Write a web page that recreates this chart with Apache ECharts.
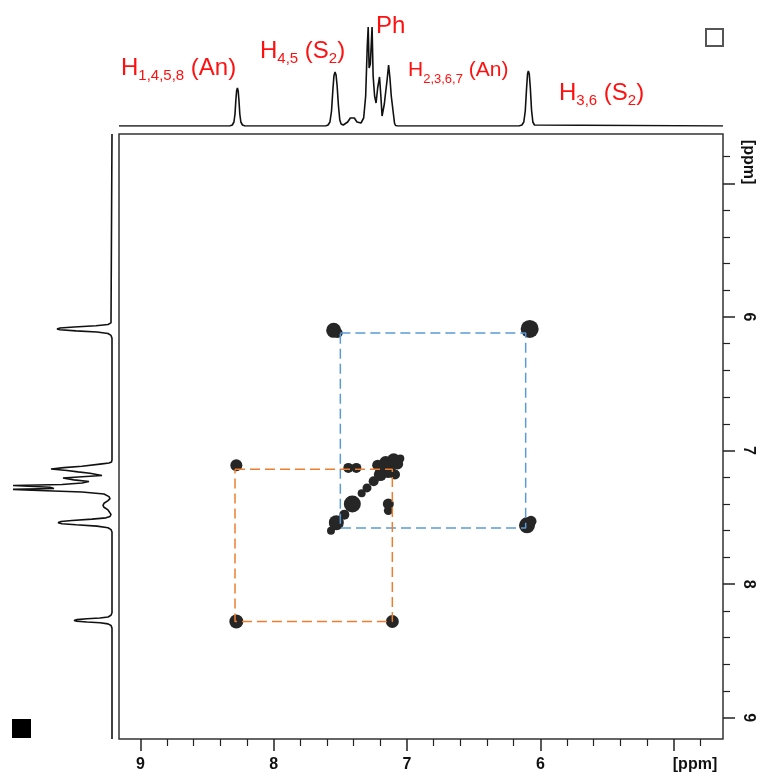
<!DOCTYPE html>
<html>
<head>
<meta charset="utf-8">
<script src="https://cdn.jsdelivr.net/npm/echarts@6/dist/echarts.min.js"></script>
<style>
  html, body { margin: 0; padding: 0; background: #fff; }
  #chart { width: 762px; height: 779px; }
</style>
</head>
<body>
<div id="chart"></div>
<script>
// ppm range shown on both axes (high field on the right / top)
const ppmMin = 4.63, ppmMax = 9.16;
const majorTicks = [9, 8, 7, 6, 5];
const minorTicks = [8.8, 8.6, 8.4, 8.2, 7.8, 7.6, 7.4, 7.2, 6.8, 6.6, 6.4, 6.2, 5.8, 5.6, 5.4, 5.2, 4.8];
const tickLabels = [9, 8, 7, 6, 4.84]; // last one carries the unit

// 1D projection (ppm, height)
const specPpm = [9.16, 8.33, 8.31, 8.298, 8.29, 8.284, 8.278, 8.272, 8.266, 8.26, 8.254, 8.246, 8.234, 8.215,
  7.61, 7.592, 7.578, 7.566, 7.556, 7.548, 7.54, 7.532, 7.524, 7.514, 7.504, 7.494, 7.486, 7.478, 7.466,
  7.445, 7.425, 7.41, 7.395, 7.375, 7.36, 7.345, 7.325, 7.31, 7.298, 7.291, 7.284, 7.275, 7.262, 7.254,
  7.243, 7.232, 7.22, 7.206, 7.196, 7.187, 7.18, 7.17, 7.16, 7.15, 7.138, 7.128, 7.118, 7.108, 7.1,
  7.094, 7.086, 7.078, 7.07, 7.062, 7.05,
  6.16, 6.138, 6.124, 6.113, 6.104, 6.096, 6.09, 6.083, 6.075, 6.066, 6.056, 6.044, 6.03, 4.63];
const specHeight = [0, 0, 1, 4, 12, 25, 35, 38, 35, 25, 12, 4, 1, 0,
  0, 1, 4, 15, 36, 50, 54, 51, 40, 20, 6, 2, 3, 1, 2.5,
  4, 8, 9, 8, 4, 2, 3, 8, 30, 80, 99, 58, 62, 99, 50,
  30, 23, 38, 49, 30, 10, 9, 22, 34, 45, 61, 48, 30, 29, 10,
  3, 0.5, 2, 0, 1.5, 0,
  0, 1, 4, 15, 36, 52, 55, 52, 38, 16, 4, 1, 0, 0];

// contour blobs of the COSY map (x ppm, y ppm, blob size)
const peakX = [7.55, 7.52, 6.08, 6.10, 6.07, 7.53, 7.57, 8.28, 8.28, 7.11, 7.44, 7.38, 7.14, 7.14, 7.41, 7.47,
  7.34, 7.30, 7.25, 7.20, 7.14, 7.09, 7.10, 7.07, 7.16, 7.22, 7.20, 7.05];
const peakY = [6.10, 6.12, 6.09, 7.56, 7.53, 7.54, 7.60, 7.11, 8.28, 8.28, 7.13, 7.13, 7.40, 7.45, 7.40, 7.48,
  7.32, 7.28, 7.23, 7.18, 7.15, 7.18, 7.07, 7.10, 7.09, 7.11, 7.14, 7.06];
const peakSize = [15, 10, 18, 16, 11, 15, 8, 12, 14, 13, 10, 10, 11, 9, 17, 10,
  8, 9, 10, 13, 15, 10, 13, 11, 13, 11, 10, 8];

// dashed correlation boxes
const blueBoxX = [7.50, 6.11, 6.11, 7.50, 7.50];
const blueBoxY = [6.12, 6.12, 7.58, 7.58, 6.12];
const orangeBoxX = [8.29, 7.11, 7.11, 8.29, 8.29];
const orangeBoxY = [7.14, 7.14, 8.28, 8.28, 7.14];

const red = "#ff1010";
const axisFont = "Liberation Sans";

function zip(a, b) {
  return a.map((v, i) => [v, b[i]]);
}

let myChart = echarts.init(document.getElementById("chart"), null, { renderer: "canvas" });

const tickLabelStyle = {
  fontFamily: axisFont,
  fontWeight: "bold",
  fontSize: 16,
  color: "#111",
  formatter: function (v) {
    return v < 5 ? "[ppm]" : String(Math.round(v));
  }
};

const rich = {
  m: { fontSize: 24, lineHeight: 30, fontFamily: axisFont, fill: red, color: red },
  s: { fontSize: 15, lineHeight: 18, verticalAlign: "bottom", fontFamily: axisFont, fill: red, color: red },
  m2: { fontSize: 21, lineHeight: 30, fontFamily: axisFont, fill: red, color: red },
  s2: { fontSize: 13, lineHeight: 18, verticalAlign: "bottom", fontFamily: axisFont, fill: red, color: red }
};
const labelDefs = [
  { left: 121, top: 56, text: "{m|H}{s|1,4,5,8}{m| (An)}" },
  { left: 260, top: 39, text: "{m|H}{s|4,5}{m| (S}{s|2}{m|)}" },
  { left: 376, top: 14, text: "{m|Ph}" },
  { left: 408, top: 60, text: "{m2|H}{s2|2,3,6,7}{m2| (An)}" },
  { left: 559, top: 81, text: "{m|H}{s|3,6}{m| (S}{s|2}{m|)}" }
];

let option = {
  animation: false,
  backgroundColor: "#fff",
  grid: [
    { left: 119, right: 39, top: 134, bottom: 40, show: true, borderColor: "#333", borderWidth: 1.5 },
    { left: 119, right: 39, top: 26, bottom: 653 },
    { left: 12, right: 650, top: 134, bottom: 40 }
  ],
  xAxis: [
    {
      type: "value", gridIndex: 0, min: ppmMin, max: ppmMax, inverse: true, position: "bottom",
      axisLine: { show: false }, splitLine: { show: false },
      axisTick: { show: true, customValues: majorTicks, length: 12, lineStyle: { color: "#222", width: 1.5 } },
      axisLabel: Object.assign({ customValues: tickLabels, margin: 18 }, tickLabelStyle)
    },
    {
      type: "value", gridIndex: 0, min: ppmMin, max: ppmMax, inverse: true, position: "bottom",
      axisLine: { show: false }, splitLine: { show: false },
      axisTick: { show: true, customValues: minorTicks, length: 7, lineStyle: { color: "#222", width: 1.2 } },
      axisLabel: { show: false }
    },
    { type: "value", gridIndex: 1, min: ppmMin, max: ppmMax, inverse: true, show: false },
    { type: "value", gridIndex: 2, min: 0, max: 100, inverse: true, show: false }
  ],
  yAxis: [
    {
      type: "value", gridIndex: 0, min: ppmMin, max: ppmMax, inverse: true, position: "right",
      axisLine: { show: false }, splitLine: { show: false },
      axisTick: { show: true, customValues: majorTicks, length: 12, lineStyle: { color: "#222", width: 1.5 } },
      axisLabel: Object.assign({ customValues: tickLabels, margin: 17, rotate: -90 }, tickLabelStyle)
    },
    {
      type: "value", gridIndex: 0, min: ppmMin, max: ppmMax, inverse: true, position: "right",
      axisLine: { show: false }, splitLine: { show: false },
      axisTick: { show: true, customValues: minorTicks, length: 7, lineStyle: { color: "#222", width: 1.2 } },
      axisLabel: { show: false }
    },
    { type: "value", gridIndex: 1, min: 0, max: 100, show: false },
    { type: "value", gridIndex: 2, min: ppmMin, max: ppmMax, inverse: true, show: false }
  ],
  series: [
    {
      name: "top projection", type: "line", xAxisIndex: 2, yAxisIndex: 2,
      data: zip(specPpm, specHeight), showSymbol: false, smooth: false,
      lineStyle: { color: "#111", width: 1.6 }
    },
    {
      name: "left projection", type: "line", xAxisIndex: 3, yAxisIndex: 3,
      data: zip(specHeight, specPpm), showSymbol: false, smooth: false,
      lineStyle: { color: "#111", width: 1.6 }
    },
    {
      name: "contours", type: "scatter", xAxisIndex: 0, yAxisIndex: 0,
      data: peakX.map((x, i) => [x, peakY[i], peakSize[i]]),
      symbolSize: function (d) { return d[2]; },
      itemStyle: { color: "#262626", opacity: 1 }
    },
    {
      name: "blue box", type: "line", xAxisIndex: 0, yAxisIndex: 0, z: 5,
      data: zip(blueBoxX, blueBoxY), showSymbol: false,
      lineStyle: { color: "#5b9bd5", width: 1.5, type: [10, 5] }
    },
    {
      name: "orange box", type: "line", xAxisIndex: 0, yAxisIndex: 0, z: 5,
      data: zip(orangeBoxX, orangeBoxY), showSymbol: false,
      lineStyle: { color: "#ed7d31", width: 1.5, type: [10, 5] }
    }
  ],
  graphic: labelDefs.map(function (d) {
    return { type: "text", left: d.left, top: d.top, style: { text: d.text, rich: rich, fill: red } };
  }).concat([
    { type: "rect", left: 705, top: 28, shape: { width: 17, height: 17 }, style: { fill: "#fff", stroke: "#555", lineWidth: 2 } },
    { type: "rect", left: 12, top: 719, shape: { width: 19, height: 19 }, style: { fill: "#000" } }
  ])
};

if (option && typeof option === "object") myChart.setOption(option);
window.addEventListener("resize", function () {
  myChart.resize();
});
</script>
</body>
</html>
